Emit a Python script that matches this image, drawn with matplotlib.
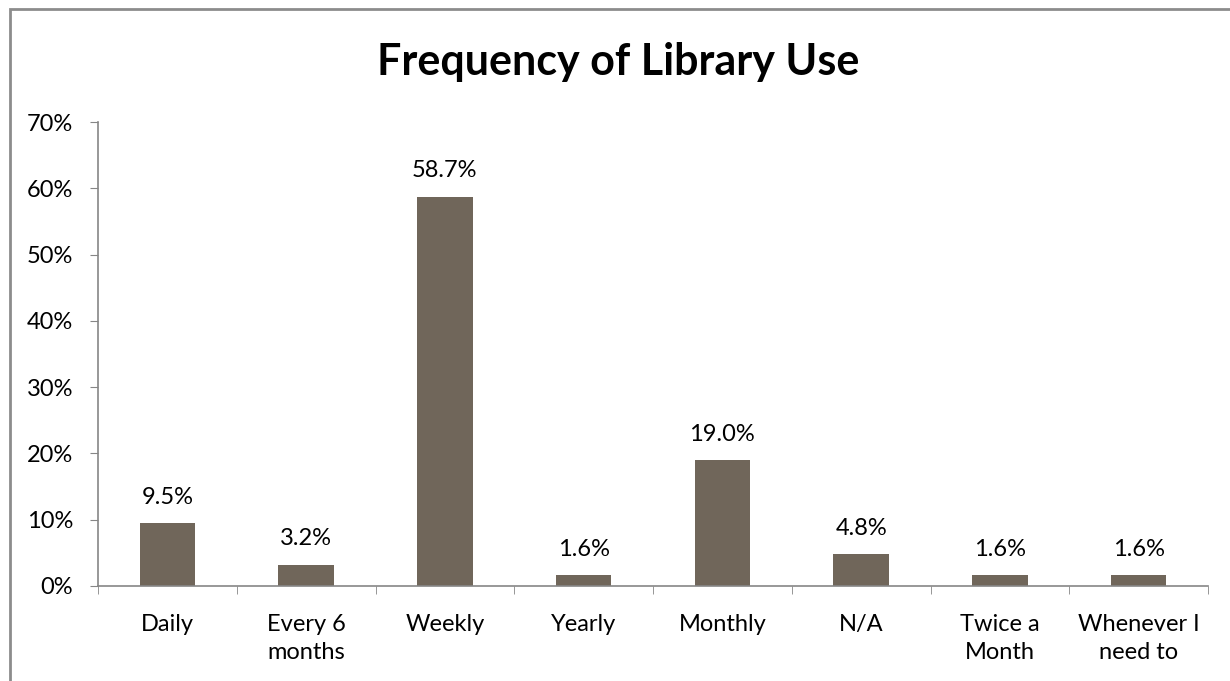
import matplotlib.pyplot as plt
from matplotlib.patches import Rectangle

categories = ["Daily", "Every 6\nmonths", "Weekly", "Yearly", "Monthly", "N/A",
              "Twice a\nMonth", "Whenever I\nneed to"]
values = [9.5, 3.2, 58.7, 1.6, 19.0, 4.8, 1.6, 1.6]
yticks = [0, 10, 20, 30, 40, 50, 60, 70]

plt.rcParams['font.family'] = ['Lato', 'DejaVu Sans']

fig = plt.figure(figsize=(12.3, 6.81), dpi=100)
ax = fig.add_axes([98 / 1230, 1 - 586 / 681, 1110 / 1230, 464 / 681])

# chart border (cropped on the right and bottom)
fig.patches.append(Rectangle((10 / 1230, -0.1), 1.2, 1 - 9 / 681 + 0.1,
                             transform=fig.transFigure, fill=False,
                             edgecolor="#8c8c8c", lw=2))

x = range(len(categories))
bars = ax.bar(x, values, width=0.4, color="#70665A")
for b, v in zip(bars, values):
    ax.annotate("%.1f%%" % v, (b.get_x() + b.get_width() / 2, v),
                xytext=(0, 26), textcoords="offset pixels",
                ha="center", va="center", fontsize=17)

ax.set_xlim(-0.5, len(categories) - 0.5)
ax.set_ylim(0, 70)
ax.set_yticks(yticks)
ax.set_yticklabels(["%d%%" % t for t in yticks], fontsize=17)
ax.set_xticks(x)
ax.set_xticklabels(categories, fontsize=17, linespacing=1.45)
ax.tick_params(axis="x", length=0, pad=20)
ax.tick_params(axis="y", length=6, color="#868686", pad=12)
# category boundary ticks
ax.set_xticks([i - 0.5 for i in range(len(categories) + 1)], minor=True)
ax.tick_params(axis="x", which="minor", length=6, color="#868686")

for s in ["top", "right"]:
    ax.spines[s].set_visible(False)
for s in ["left", "bottom"]:
    ax.spines[s].set_color("#868686")
    ax.spines[s].set_linewidth(1.2)

fig.text(618 / 1230, 1 - 75 / 681, "Frequency of Library Use", ha="center",
         va="baseline", fontsize=31, fontweight="bold")

fig.savefig("out.png", dpi=100)
